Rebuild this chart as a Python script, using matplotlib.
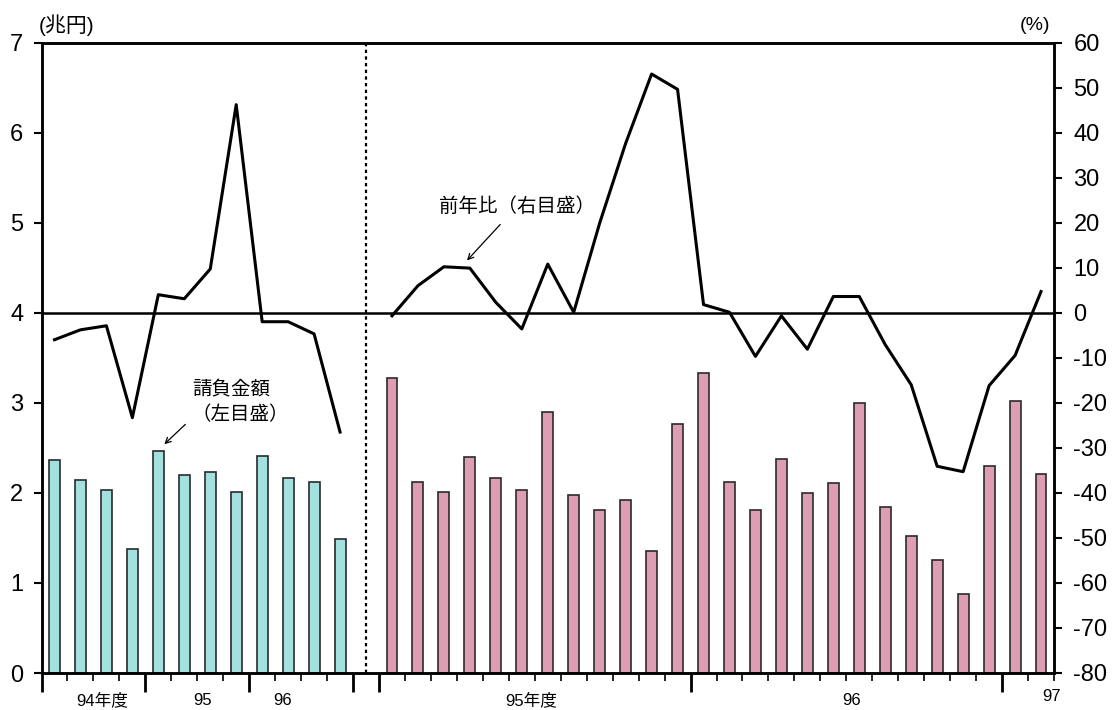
import numpy as np
import matplotlib.pyplot as plt

plt.rcParams['font.family'] = ['Liberation Sans', 'Noto Sans CJK JP']
plt.rcParams['axes.unicode_minus'] = False

# quarterly, fiscal 94-96 (兆円, 前年比 %)
q_amount = [2.37, 2.14, 2.03, 1.38, 2.47, 2.20, 2.23, 2.01, 2.41, 2.16, 2.12, 1.49]
q_yoy = [-6.0, -3.8, -2.9, -23.3, 4.0, 3.1, 9.7, 46.2, -2.0, -2.0, -4.7, -26.5]

# monthly, Apr 95 - May 97
m_amount = [3.27, 2.12, 2.01, 2.40, 2.17, 2.03, 2.90, 1.98, 1.81, 1.92, 1.36, 2.76,
            3.33, 2.12, 1.81, 2.38, 2.00, 2.11, 3.00, 1.84, 1.52, 1.25, 0.88, 2.30,
            3.02, 2.21]
m_yoy = [-0.7, 6.0, 10.2, 9.9, 2.3, -3.6, 10.8, 0.1, 19.9, 37.6, 53.0, 49.6,
         1.8, 0.1, -9.7, -0.7, -8.1, 3.6, 3.6, -7.1, -16.0, -34.1, -35.3, -16.2,
         -9.5, 4.7]

period_labels = ['94年度', '95', '96', '95年度', '96', '97']
period_x = [2.33, 6.22, 9.3, 18.86, 31.2, 38.9]

# slot layout: 12 quarters, 1 gap slot, 26 months
q_x = np.arange(len(q_amount)) + 0.5
m_x = np.arange(len(m_amount)) + 13.5
n_slots = 13 + len(m_amount)

fig = plt.figure(figsize=(11.15, 7.1), dpi=100)
ax = fig.add_axes([41.5 / 1115, 1 - 673 / 710, 1012.5 / 1115, 630.5 / 710])
ax2 = ax.twinx()

ax.bar(q_x, q_amount, width=0.42, color='#a3e1e1', edgecolor='#2a2a2a', linewidth=1.2)
ax.bar(m_x, m_amount, width=0.42, color='#df9db5', edgecolor='#2a2a2a', linewidth=1.2)
ax.axvline(12.5, color='black', lw=1.6, linestyle=(0, (1.5, 1.5)))

ax2.axhline(0, color='black', lw=1.8)
ax2.plot(q_x, q_yoy, color='black', lw=2.2)
ax2.plot(m_x, m_yoy, color='black', lw=2.2)

ax.set_xlim(0, n_slots)
ax.set_ylim(0, 7)
ax.set_yticks(range(0, 8))
ax2.set_ylim(-80, 60)
ax2.set_yticks(range(-80, 61, 10))

for a in (ax, ax2):
    for s in a.spines.values():
        s.set_linewidth(1.8)
ax.tick_params(axis='y', direction='out', length=6, width=1.5, labelsize=17, pad=7)
ax2.tick_params(axis='y', direction='out', length=6, width=1.5, labelsize=17, pad=8)

major = [0, 4, 8, 12, 13, 25, 37]
minor = [i for i in range(n_slots + 1) if i not in major]
ax.set_xticks(major)
ax.set_xticklabels([''] * len(major))
ax.set_xticks(minor, minor=True)
ax.tick_params(axis='x', which='major', direction='out', length=14, width=2)
ax.tick_params(axis='x', which='minor', direction='out', length=6, width=1.2)

for x, lab in zip(period_x, period_labels):
    yy = -0.038 if lab == '97' else -0.043
    ax.text(x, yy, lab, transform=ax.get_xaxis_transform(), ha='center', va='center',
            fontsize=12)

fig.text(67 / 1115, 1 - 25 / 710, '(兆円)', ha='center', va='center', fontsize=15)
fig.text(1035 / 1115, 1 - 25 / 710, '(%)', ha='center', va='center', fontsize=14)

ax2.text(18.3, 23.6, '前年比（右目盛）', ha='center', va='center', fontsize=14)
ax2.annotate('', xy=(16.39, 11.6), xytext=(17.67, 19.6),
             arrowprops=dict(arrowstyle='->', lw=0.9, color='black', shrinkA=0, shrinkB=0))

ax.text(7.3, 3.14, '請負金額', ha='center', va='center', fontsize=14)
ax.text(7.65, 2.87, '（左目盛）', ha='center', va='center', fontsize=14)
ax.annotate('', xy=(4.73, 2.54), xytext=(5.54, 2.76),
            arrowprops=dict(arrowstyle='->', lw=0.9, color='black', shrinkA=0, shrinkB=0))

fig.savefig('out.png', dpi=100)
